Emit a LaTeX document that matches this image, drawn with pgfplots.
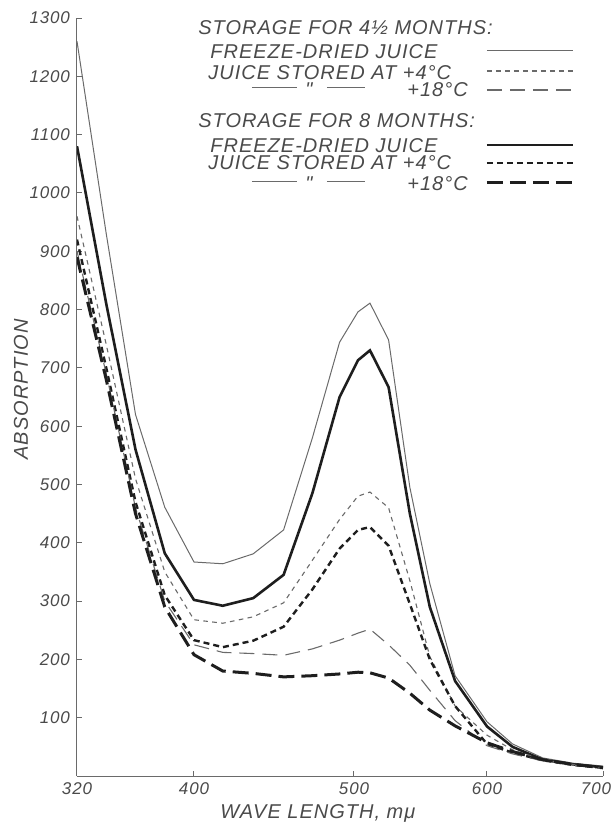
\documentclass[border=0pt]{standalone}
\usepackage{pgfplots}
\pgfplotsset{compat=1.18}
\usepackage{pgfplotstable}
\usepackage{fontspec}
\setmainfont{Liberation Sans}
\newfontfamily\lettering[LetterSpace=5]{Liberation Sans}
\definecolor{ink}{HTML}{4A4A4A}
\definecolor{thinline}{HTML}{6A6A6A}
\definecolor{thickline}{HTML}{1E1E1E}

% absorption spectra; A-C-E: 4 1/2 months, B-D-F: 8 months
% A,B freeze-dried; C,D stored at +4 C; E,F stored at +18 C
\pgfplotstableread{
nm   A     B     C    D    E    F
320  1260  1080  960  920  900  890
340  930   810   740  700  690  680
360  620   560   510  470  460  450
380  461   382   350  310  300  290
400  367   302   268  233  225  208
418  364   292   262  221  212  180
437  381   305   273  232  210  176
456  422   345   297  256  207  170
474  580   485   370  320  218  172
491  744   650   440  390  233  175
503  796   713   480  422  245  178
512  811   730   487  427  252  177
526  748   667   460  395  225  168
542  495   450   335  295  190  142
557  330   290   205  200  147  113
576  172   163   120  120  95   86
600  93    85    70   55   52   57
622  55    50    45   40   38   42
648  31    28    28   27   26   28
674  22    20    20   19   19   20
700  17    15    15   14   13   14
}\spectra

\tikzset{
  lett/.style={font=\lettering\itshape\fontsize{10}{12}\selectfont, text=ink, inner sep=0pt},
  thinsolid/.style={thinline, line width=0.5pt},
  thicksolid/.style={thickline, line width=1.3pt},
  thindot/.style={thinline, line width=0.55pt, dash pattern=on 2.3pt off 2.2pt},
  thickdot/.style={thickline, line width=1.2pt, dash pattern=on 3pt off 2pt},
  thindash/.style={thinline, line width=0.55pt, dash pattern=on 7.5pt off 4pt},
  thickdash/.style={thickline, line width=1.5pt, dash pattern=on 8pt off 3.5pt},
}

\begin{document}
\begin{tikzpicture}
\begin{axis}[
  scale only axis, width=263pt, height=379pt,
  xmin=320, xmax=700, ymin=0, ymax=1300,
  % the wavelength scale of the drawing is not uniform
  x coord trafo/.code={\pgfmathparse{1.4625*(min(#1,400)-320)+1.6*(max(min(#1,500),400)-400)+1.33*(max(min(#1,600),500)-500)+1.16*(max(#1,600)-600)}},
  axis x line=bottom, axis y line=left,
  axis line style={-, draw=thinline, line width=0.5pt},
  xtick={320,400,500,600,700}, xticklabels={320,400,500,600,\kern-7pt 700},
  ytick={100,200,...,1300},
  tick align=inside, major tick length=2.5pt,
  tick style={thinline, line width=0.5pt},
  ticklabel style={font=\lettering\itshape\fontsize{8.5}{10}\selectfont, text=ink},
  /pgf/number format/assume math mode=true,
  /pgf/number format/1000 sep={},
  xlabel={WAVE LENGTH, mμ},
  xlabel style={lett, at={(axis description cs:0.458,-0.0488)}, anchor=center},
  ylabel={ABSORPTION},
  ylabel style={lett, at={(axis description cs:-0.1065,0.51)}, anchor=center},
]
\addplot[thinsolid] table[x=nm,y=A]{\spectra};
\addplot[thicksolid] table[x=nm,y=B]{\spectra};
\addplot[thindot] table[x=nm,y=C]{\spectra};
\addplot[thickdot] table[x=nm,y=D]{\spectra};
\addplot[thindash] table[x=nm,y=E]{\spectra};
\addplot[thickdash] table[x=nm,y=F]{\spectra};
\end{axis}

% legend
\node[lett, anchor=base west] at (60.5pt,370.5pt) {STORAGE FOR 4½ MONTHS:};
\node[lett, anchor=base west] at (66.5pt,359pt) {FREEZE-DRIED JUICE};
\node[lett, anchor=base west] at (65.5pt,348.5pt) {JUICE STORED AT +4°C};
\draw[thinsolid] (87.5pt,344pt) -- (110pt,344pt);
\node[lett, anchor=base west] at (114pt,339.5pt) {"};
\draw[thinsolid] (125pt,344pt) -- (144pt,344pt);
\node[lett, anchor=base west] at (165pt,339.5pt) {+18°C};
\node[lett, anchor=base west] at (60.5pt,324pt) {STORAGE FOR 8 MONTHS:};
\node[lett, anchor=base west] at (66.5pt,312pt) {FREEZE-DRIED JUICE};
\node[lett, anchor=base west] at (65.5pt,303pt) {JUICE STORED AT +4°C};
\draw[thinsolid] (87.5pt,297pt) -- (110pt,297pt);
\node[lett, anchor=base west] at (114pt,292.5pt) {"};
\draw[thinsolid] (125pt,297pt) -- (144pt,297pt);
\node[lett, anchor=base west] at (165pt,292.5pt) {+18°C};

\draw[thinsolid] (205pt,362.5pt) -- (248pt,362.5pt);
\draw[thindot] (205pt,352.5pt) -- (248pt,352.5pt);
\draw[thindash] (205pt,343pt) -- (248pt,343pt);
\draw[thicksolid] (205pt,315.5pt) -- (248pt,315.5pt);
\draw[thickdot] (205pt,306.5pt) -- (248pt,306.5pt);
\draw[thickdash] (205pt,296.5pt) -- (248pt,296.5pt);

\pgfresetboundingbox
\path (-38.5pt,-25.5pt) rectangle (268pt,388pt);
\end{tikzpicture}
\end{document}
